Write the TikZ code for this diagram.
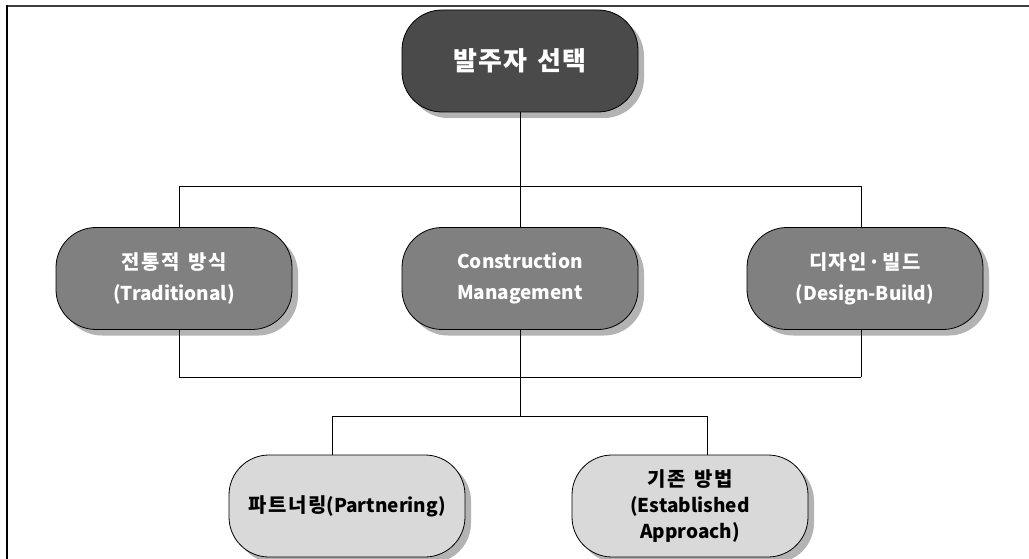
\documentclass[tikz,border=0pt]{standalone}
\usepackage{fontspec}
\setmainfont{Noto Sans CJK KR}
\newfontfamily\krs{Noto Sans CJK KR}[LetterSpace=8,Scale=1.05]
\newfontfamily\krt{Noto Sans CJK KR}[LetterSpace=4]
\usetikzlibrary{shadows}
\definecolor{topfill}{HTML}{4A4A4A}
\definecolor{midfill}{HTML}{808080}
\definecolor{lowfill}{HTML}{D9D9D9}
\definecolor{shadowgray}{HTML}{B3B3B3}
\definecolor{framegray}{HTML}{404040}
\begin{document}
\begin{tikzpicture}[x=1pt,y=-1pt,
  box/.style={draw=black, line width=0.8pt, rounded corners=40pt,
    minimum width=236pt, minimum height=102pt, inner sep=0pt, align=center,
    font=\bfseries, drop shadow={shadow xshift=6pt, shadow yshift=-6pt, fill=shadowgray, opacity=1}},
  topbox/.style={box, fill=topfill, text=white, font=\bfseries\fontsize{26}{30}\selectfont},
  midbox/.style={box, fill=midfill, text=white, font=\bfseries\fontsize{19}{31}\selectfont},
  lowbox/.style={box, fill=lowfill, text=black, font=\bfseries\fontsize{19}{26}\selectfont},
  conn/.style={draw=black, line width=0.8pt}]
\useasboundingbox (0,0) rectangle (1029,559);
\fill[white] (0,0) rectangle (1029,559);
% frame
\draw[framegray, line width=2.6pt] (6,6) -- (1029,6);
\draw[black, line width=2pt] (6.5,5) -- (6.5,559);
% connector coordinates
\coordinate (j1) at (520,186);
\coordinate (j1l) at (179,186);
\coordinate (j1r) at (861,186);
\coordinate (j2l) at (179,377);
\coordinate (j2r) at (861,377);
\coordinate (j3) at (520,416);
\coordinate (j3l) at (332,416);
\coordinate (j3r) at (707,416);
% connectors
\draw[conn] (j1l) -- (j1r);
\draw[conn] (j2l) -- (j2r);
\draw[conn] (j3l) -- (j3r);
% nodes
\node[topbox] (top) at (520,61) {{\krt 발주자\hspace{3pt} 선택}};
\node[midbox] (trad) at (174,278.5) {{\krs 전통적\hspace{3pt} 방식}\\(Traditional)};
\node[midbox] (cm) at (520,278.5) {Construction\\Management};
\node[midbox] (db) at (865,278.5) {{\krs 디자인·빌드}\\(Design-Build)};
\node[lowbox] (part) at (347,506) {{\krs 파트너링}(Partnering)};
\node[lowbox] (est) at (690,506) {{\krs 기존\hspace{3pt} 방법}\\(Established\\Approach)};
% vertical connectors
\draw[conn] (top.south) -- (j1);
\draw[conn] (j1l) -- (j1l |- trad.north);
\draw[conn] (j1) -- (cm.north);
\draw[conn] (j1r) -- (j1r |- db.north);
\draw[conn] (j2l |- trad.south) -- (j2l);
\draw[conn] (j2r |- db.south) -- (j2r);
\draw[conn] (cm.south) -- (j3);
\draw[conn] (j3l) -- (j3l |- part.north);
\draw[conn] (j3r) -- (j3r |- est.north);
\end{tikzpicture}
\end{document}
